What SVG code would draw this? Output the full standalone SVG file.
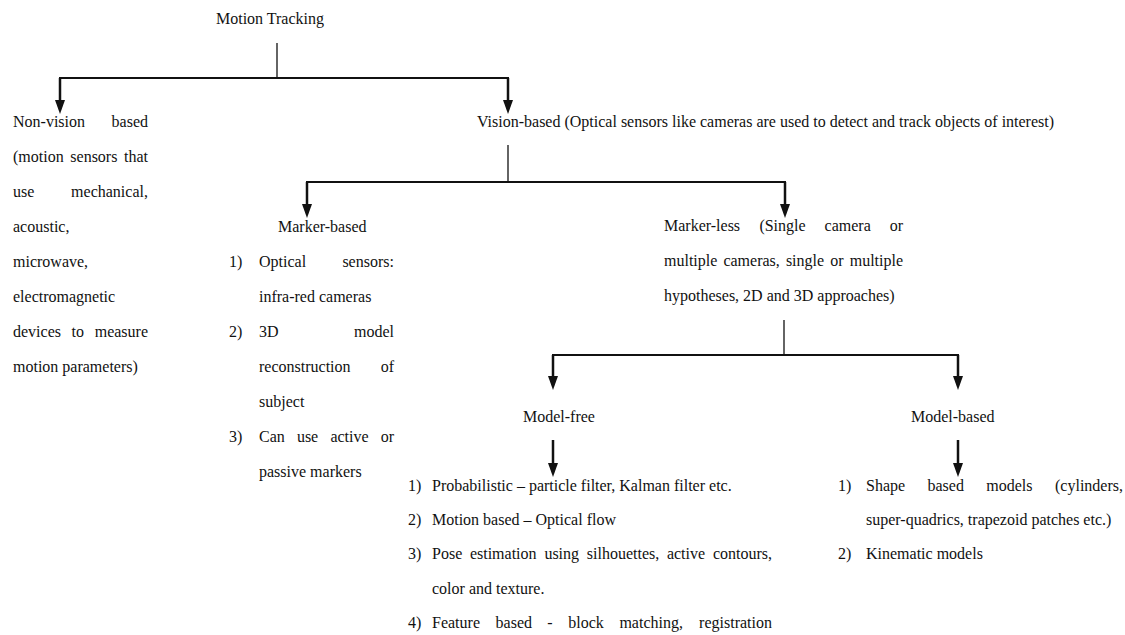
<svg xmlns="http://www.w3.org/2000/svg" width="1125" height="635" viewBox="0 0 1125 635">
<defs>
<style>
text{font-family:"Liberation Serif","Times New Roman",serif;font-size:16px;fill:#111;}
.thin{stroke:#111;stroke-width:1.3;fill:none;}
.bar{stroke:#111;stroke-width:1.8;fill:none;}
.arr{stroke:#111;stroke-width:2.5;fill:none;marker-end:url(#ah);}
</style>
<marker id="ah" markerUnits="userSpaceOnUse" markerWidth="14" markerHeight="10" refX="8" refY="5" orient="auto">
<path d="M0,0 L14,5 L0,10 z" fill="#111"/>
</marker>
</defs>
<rect width="1125" height="635" fill="#fff"/>

<g id="connectors">
<line class="thin" x1="277" y1="43" x2="277" y2="78"/>
<line class="bar" x1="59" y1="78" x2="509" y2="78"/>
<line class="arr" x1="60" y1="78" x2="60" y2="108"/>
<line class="arr" x1="508" y1="78" x2="508" y2="108"/>

<line class="thin" x1="508" y1="145" x2="508" y2="182"/>
<line class="bar" x1="306" y1="182" x2="786" y2="182"/>
<line class="arr" x1="307" y1="182" x2="307" y2="212"/>
<line class="arr" x1="785" y1="182" x2="785" y2="212"/>

<line class="thin" x1="784" y1="320" x2="784" y2="355"/>
<line class="bar" x1="552" y1="355" x2="959" y2="355"/>
<line class="arr" x1="553" y1="355" x2="553" y2="384"/>
<line class="arr" x1="958" y1="355" x2="958" y2="384"/>

<line class="arr" x1="553" y1="440" x2="553" y2="471"/>
<line class="arr" x1="958" y1="440" x2="958" y2="471"/>
</g>

<g id="motion-tracking">
<text x="216" y="24">Motion Tracking</text>
</g>

<g id="non-vision">
<text y="127"><tspan x="13">Non-vision</tspan><tspan x="111.6">based</tspan></text>
<text y="162"><tspan x="13">(motion</tspan><tspan x="70.3">sensors</tspan><tspan x="124">that</tspan></text>
<text y="197"><tspan x="13">use</tspan><tspan x="71.1">mechanical,</tspan></text>
<text x="13" y="232">acoustic,</text>
<text x="13" y="267">microwave,</text>
<text x="13" y="302">electromagnetic</text>
<text y="337"><tspan x="13">devices</tspan><tspan x="71.6">to</tspan><tspan x="94.7">measure</tspan></text>
<text x="13" y="372">motion parameters)</text>
</g>

<g id="vision">
<text x="477" y="127">Vision-based (Optical sensors like cameras are used to detect and track objects of interest)</text>
</g>

<g id="marker-based">
<text x="278" y="232">Marker-based</text>
<text x="229" y="267">1)</text>
<text y="267"><tspan x="259">Optical</tspan><tspan x="342.4">sensors:</tspan></text>
<text x="259" y="302">infra-red cameras</text>
<text x="229" y="337">2)</text>
<text y="337"><tspan x="259">3D</tspan><tspan x="354">model</tspan></text>
<text y="372"><tspan x="259">reconstruction</tspan><tspan x="380.7">of</tspan></text>
<text x="259" y="407">subject</text>
<text x="229" y="442">3)</text>
<text y="442"><tspan x="259">Can</tspan><tspan x="296.9">use</tspan><tspan x="330.4">active</tspan><tspan x="380.7">or</tspan></text>
<text x="259" y="477">passive markers</text>
</g>

<g id="marker-less">
<text y="231"><tspan x="664">Marker-less</tspan><tspan x="759.4">(Single</tspan><tspan x="824.6">camera</tspan><tspan x="889.7">or</tspan></text>
<text y="266"><tspan x="664">multiple</tspan><tspan x="723.4">cameras,</tspan><tspan x="785.9">single</tspan><tspan x="830.2">or</tspan><tspan x="849.7">multiple</tspan></text>
<text x="664" y="301">hypotheses, 2D and 3D approaches)</text>
</g>

<g id="model-free">
<text x="523" y="422">Model-free</text>
<text x="408" y="491">1)</text>
<text x="432" y="491">Probabilistic – particle filter, Kalman filter etc.</text>
<text x="408" y="525">2)</text>
<text x="432" y="525">Motion based – Optical flow</text>
<text x="408" y="559">3)</text>
<text y="559"><tspan x="432">Pose</tspan><tspan x="469.9">estimation</tspan><tspan x="544.4">using</tspan><tspan x="586.8">silhouettes,</tspan><tspan x="666.9">active</tspan><tspan x="712.9">contours,</tspan></text>
<text x="432" y="594">color and texture.</text>
<text x="408" y="628">4)</text>
<text y="628"><tspan x="432">Feature</tspan><tspan x="495.6">based</tspan><tspan x="547.3">-</tspan><tspan x="568.2">block</tspan><tspan x="619.4">matching,</tspan><tspan x="699.1">registration</tspan></text>
</g>

<g id="model-based">
<text x="911" y="422">Model-based</text>
<text x="838" y="491">1)</text>
<text y="491"><tspan x="866">Shape</tspan><tspan x="927.5">based</tspan><tspan x="986.3">models</tspan><tspan x="1055">(cylinders,</tspan></text>
<text x="866" y="525">super-quadrics, trapezoid patches etc.)</text>
<text x="838" y="559">2)</text>
<text x="866" y="559">Kinematic models</text>
</g>
</svg>
